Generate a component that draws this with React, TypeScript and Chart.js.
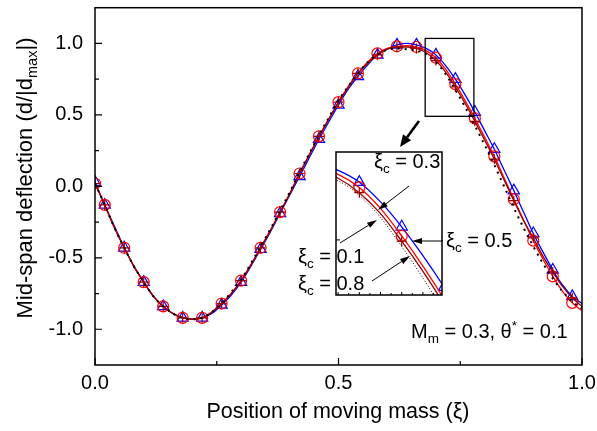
import React, { useEffect, useRef } from "react";
import { Chart, registerables } from "chart.js";
Chart.register(...registerables);

// Position of moving mass (ξ)
const XI = [
  0, 0.02, 0.04, 0.06, 0.08, 0.1, 0.12, 0.14, 0.16, 0.18,
  0.2, 0.22, 0.24, 0.26, 0.28, 0.3, 0.32, 0.34, 0.36, 0.38,
  0.4, 0.42, 0.44, 0.46, 0.48, 0.5, 0.52, 0.54, 0.56, 0.58,
  0.6, 0.62, 0.64, 0.66, 0.68, 0.7, 0.72, 0.74, 0.76, 0.78,
  0.8, 0.82, 0.84, 0.86, 0.88, 0.9, 0.92, 0.94, 0.96, 0.98, 1.0,
];

// ξc = 0.1 (dark red, plus markers)
const D_XC01 = [
  0.02, -0.13, -0.29, -0.43, -0.56, -0.67, -0.77, -0.84, -0.89, -0.92,
  -0.93, -0.92, -0.88, -0.82, -0.75, -0.66, -0.55, -0.43, -0.31, -0.18,
  -0.05, 0.09, 0.22, 0.35, 0.47, 0.59, 0.69, 0.79, 0.86, 0.92,
  0.96, 0.975, 0.975, 0.965, 0.935, 0.88, 0.8, 0.695, 0.58, 0.455,
  0.325, 0.19, 0.045, -0.1, -0.24, -0.36, -0.49, -0.6, -0.7, -0.78, -0.84,
];

// ξc = 0.3 (blue, triangles)
const D_XC03 = [
  0.03, -0.13, -0.28, -0.43, -0.56, -0.67, -0.77, -0.84, -0.89, -0.92,
  -0.93, -0.92, -0.89, -0.83, -0.76, -0.67, -0.56, -0.44, -0.32, -0.19,
  -0.06, 0.07, 0.2, 0.33, 0.45, 0.57, 0.68, 0.77, 0.85, 0.92,
  0.96, 0.99, 1.0, 0.99, 0.965, 0.92, 0.845, 0.75, 0.64, 0.52,
  0.39, 0.26, 0.115, -0.03, -0.18, -0.33, -0.46, -0.585, -0.69, -0.77, -0.82,
];

// ξc = 0.5 (red, circles)
const D_XC05 = [
  0.02, -0.13, -0.29, -0.43, -0.56, -0.67, -0.77, -0.84, -0.89, -0.92,
  -0.93, -0.92, -0.88, -0.82, -0.75, -0.66, -0.55, -0.43, -0.31, -0.18,
  -0.05, 0.09, 0.22, 0.35, 0.47, 0.59, 0.7, 0.79, 0.87, 0.93,
  0.965, 0.98, 0.985, 0.975, 0.95, 0.9, 0.82, 0.715, 0.6, 0.475,
  0.345, 0.21, 0.06, -0.09, -0.235, -0.38, -0.51, -0.63, -0.735, -0.815, -0.87,
];

// ξc = 0.8 (black dotted)
const D_XC08 = [
  0.02, -0.13, -0.29, -0.43, -0.56, -0.67, -0.77, -0.84, -0.89, -0.92,
  -0.93, -0.92, -0.88, -0.82, -0.74, -0.65, -0.54, -0.42, -0.3, -0.17,
  -0.04, 0.1, 0.23, 0.36, 0.48, 0.6, 0.7, 0.79, 0.87, 0.92,
  0.955, 0.965, 0.96, 0.95, 0.925, 0.87, 0.785, 0.675, 0.555, 0.425,
  0.29, 0.15, 0.0, -0.15, -0.29, -0.42, -0.54, -0.645, -0.735, -0.805, -0.855,
];

const X_TICKS = [0, 0.5, 1];
const X_MINOR = [0.25, 0.75];
const Y_TICKS = [-1, -0.5, 0, 0.5, 1];
const Y_MINOR = [-0.75, -0.25, 0.25, 0.75];
const X_RANGE = [0, 1];
const Y_RANGE = [-1.25, 1.25];
// zoomed window shown in the inset
const ZOOM_X = [0.678, 0.778];
const ZOOM_Y = [0.49, 1.035];
const INSET_X_TICKS = [0.68, 0.69, 0.7, 0.71, 0.72, 0.73, 0.74, 0.75, 0.76, 0.77];
const INSET_Y_TICKS = [0.7];

const FONT = '"Liberation Sans", Arial, Helvetica, sans-serif';

type Part = { t: string; size: number; dy: number };

function drawRich(ctx: CanvasRenderingContext2D, parts: Part[], x: number, y: number, align: "left" | "center") {
  let total = 0;
  parts.forEach((p) => {
    ctx.font = `${p.size}px ${FONT}`;
    total += ctx.measureText(p.t).width;
  });
  let cx = align === "center" ? x - total / 2 : x;
  ctx.textAlign = "left";
  ctx.textBaseline = "alphabetic";
  parts.forEach((p) => {
    ctx.font = `${p.size}px ${FONT}`;
    ctx.fillText(p.t, cx, y + p.dy);
    cx += ctx.measureText(p.t).width;
  });
}

function arrow(ctx: CanvasRenderingContext2D, x1: number, y1: number, x2: number, y2: number, hl: number, hw: number, lw: number) {
  const ang = Math.atan2(y2 - y1, x2 - x1);
  const bx = x2 - hl * Math.cos(ang);
  const by = y2 - hl * Math.sin(ang);
  ctx.lineWidth = lw;
  ctx.beginPath();
  ctx.moveTo(x1, y1);
  ctx.lineTo(bx, by);
  ctx.stroke();
  ctx.beginPath();
  ctx.moveTo(x2, y2);
  ctx.lineTo(bx + (hw / 2) * Math.sin(ang), by - (hw / 2) * Math.cos(ang));
  ctx.lineTo(bx - (hw / 2) * Math.sin(ang), by + (hw / 2) * Math.cos(ang));
  ctx.closePath();
  ctx.fill();
}

function xiLabel(value: string): Part[] {
  return [
    { t: "\u03BE", size: 20, dy: 0 },
    { t: "c", size: 13.5, dy: 5 },
    { t: " = " + value, size: 20, dy: 0 },
  ];
}

const markerRadius = (r: number) => (c: any) => (c.dataIndex === 0 || c.dataIndex % 2 === 1 ? r : 0);

function buildDatasets(inset: boolean) {
  const pts = (vals: number[]) => XI.map((x, i) => ({ x, y: vals[i] }));
  return [
    {
      label: "\u03BEc = 0.8",
      data: pts(D_XC08),
      borderColor: "#000000",
      borderWidth: inset ? 1 : 2,
      borderDash: inset ? [1, 2] : [2, 5],
      pointRadius: 0,
      cubicInterpolationMode: "monotone",
    },
    {
      label: "\u03BEc = 0.1",
      data: pts(D_XC01),
      borderColor: "#990000",
      borderWidth: 1.3,
      pointStyle: "cross",
      pointRadius: markerRadius(5),
      pointBorderColor: "#990000",
      pointBackgroundColor: "rgba(0,0,0,0)",
      pointBorderWidth: 1.2,
      cubicInterpolationMode: "monotone",
    },
    {
      label: "\u03BEc = 0.5",
      data: pts(D_XC05),
      borderColor: "#ff0000",
      borderWidth: 1.3,
      pointStyle: "circle",
      pointRadius: markerRadius(5.5),
      pointBorderColor: "#ff0000",
      pointBackgroundColor: "rgba(0,0,0,0)",
      pointBorderWidth: 1.2,
      cubicInterpolationMode: "monotone",
    },
    {
      label: "\u03BEc = 0.3",
      data: pts(D_XC03),
      borderColor: "#0000ff",
      borderWidth: 1.3,
      pointStyle: "triangle",
      pointRadius: markerRadius(6.5),
      pointBorderColor: "#0000ff",
      pointBackgroundColor: "rgba(0,0,0,0)",
      pointBorderWidth: 1.2,
      cubicInterpolationMode: "monotone",
    },
  ];
}

const mainPlugin = {
  id: "mainDecor",
  afterDatasetsDraw(chart: any) {
    const { ctx, chartArea: a } = chart;
    const x = chart.scales.x;
    const y = chart.scales.y;
    ctx.save();
    ctx.strokeStyle = "#000";
    ctx.fillStyle = "#000";
    ctx.lineWidth = 1.5;
    ctx.strokeRect(a.left, a.top, a.right - a.left, a.bottom - a.top);
    ctx.lineWidth = 1.2;
    ctx.beginPath();
    Y_TICKS.forEach((v) => {
      const p = y.getPixelForValue(v);
      ctx.moveTo(a.left, p);
      ctx.lineTo(a.left + 7, p);
    });
    Y_MINOR.forEach((v) => {
      const p = y.getPixelForValue(v);
      ctx.moveTo(a.left, p);
      ctx.lineTo(a.left + 4, p);
    });
    X_TICKS.forEach((v) => {
      const p = x.getPixelForValue(v);
      ctx.moveTo(p, a.bottom);
      ctx.lineTo(p, a.bottom - 7);
    });
    X_MINOR.forEach((v) => {
      const p = x.getPixelForValue(v);
      ctx.moveTo(p, a.bottom);
      ctx.lineTo(p, a.bottom - 4);
    });
    ctx.stroke();

    // zoom window rectangle
    const rx1 = x.getPixelForValue(ZOOM_X[0]);
    const rx2 = x.getPixelForValue(ZOOM_X[1]);
    const ry1 = y.getPixelForValue(ZOOM_Y[1]);
    const ry2 = y.getPixelForValue(ZOOM_Y[0]);
    ctx.lineWidth = 1.3;
    ctx.strokeRect(rx1, ry1, rx2 - rx1, ry2 - ry1);

    // big arrow to inset
    arrow(ctx, 419, 121, 400, 147, 12, 10, 2.6);

    // axis titles
    ctx.font = `21.5px ${FONT}`;
    ctx.textAlign = "center";
    ctx.textBaseline = "middle";
    ctx.fillText("Position of moving mass (\u03BE)", 338, 412);

    ctx.save();
    ctx.translate(32, 178);
    ctx.rotate(-Math.PI / 2);
    drawRich(
      ctx,
      [
        { t: "Mid-span deflection (d/|d", size: 22, dy: 0 },
        { t: "max", size: 14.5, dy: 5 },
        { t: "|)", size: 22, dy: 0 },
      ],
      0,
      0,
      "center"
    );
    ctx.restore();
    ctx.restore();
  },
};

const insetPlugin = {
  id: "insetDecor",
  beforeDatasetsDraw(chart: any) {
    const { ctx, chartArea: a } = chart;
    ctx.save();
    ctx.fillStyle = "#ffffff";
    ctx.fillRect(a.left, a.top, a.right - a.left, a.bottom - a.top);
    ctx.restore();
  },
  afterDatasetsDraw(chart: any) {
    const { ctx, chartArea: a } = chart;
    const x = chart.scales.x;
    const y = chart.scales.y;
    ctx.save();
    ctx.strokeStyle = "#000";
    ctx.fillStyle = "#000";
    ctx.lineWidth = 1.5;
    ctx.strokeRect(a.left, a.top, a.right - a.left, a.bottom - a.top);
    ctx.lineWidth = 1;
    ctx.beginPath();
    INSET_X_TICKS.forEach((v, i) => {
      const p = x.getPixelForValue(v);
      ctx.moveTo(p, a.bottom);
      ctx.lineTo(p, a.bottom - (i % 2 === 0 ? 3 : 2));
    });
    INSET_Y_TICKS.forEach((v) => {
      const p = y.getPixelForValue(v);
      ctx.moveTo(a.left, p);
      ctx.lineTo(a.left + 4, p);
    });
    ctx.stroke();

    // labels
    drawRich(ctx, xiLabel("0.3"), 374, 168, "left");
    drawRich(ctx, xiLabel("0.5"), 446, 247, "left");
    drawRich(ctx, xiLabel("0.1"), 298, 263, "left");
    drawRich(ctx, xiLabel("0.8"), 298, 290, "left");

    ctx.strokeStyle = "#000";
    arrow(ctx, 409, 186, 378, 210, 10, 6, 1);
    arrow(ctx, 340, 243, 377, 220, 10, 6, 1);
    arrow(ctx, 443, 241, 412, 241, 10, 6, 1);
    arrow(ctx, 372, 281, 410, 256, 10, 6, 1);

    drawRich(
      ctx,
      [
        { t: "M", size: 20, dy: 0 },
        { t: "m", size: 13.5, dy: 5 },
        { t: " = 0.3, \u03B8", size: 20, dy: 0 },
        { t: "*", size: 13.5, dy: -8 },
        { t: " = 0.1", size: 20, dy: 0 },
      ],
      411,
      338,
      "left"
    );
    ctx.restore();
  },
};

export default function App() {
  const mainRef = useRef<HTMLCanvasElement>(null);
  const insetRef = useRef<HTMLCanvasElement>(null);

  useEffect(() => {
    const main = new Chart(mainRef.current as HTMLCanvasElement, {
      type: "line",
      data: { datasets: buildDatasets(false) as any },
      options: {
        responsive: false,
        animation: false,
        devicePixelRatio: 1,
        layout: { padding: { top: 7, right: 15, left: 0, bottom: 0 } },
        plugins: { legend: { display: false }, tooltip: { enabled: false } },
        scales: {
          x: {
            type: "linear",
            min: X_RANGE[0],
            max: X_RANGE[1],
            afterBuildTicks: (s: any) => {
              s.ticks = X_TICKS.map((v) => ({ value: v }));
            },
            afterFit: (s: any) => {
              s.height = 66;
              s.paddingLeft = 0;
              s.paddingRight = 0;
            },
            ticks: {
              font: { family: FONT, size: 20 },
              color: "#000",
              padding: 6,
              maxRotation: 0,
              autoSkip: false,
              callback: (v: any) => Number(v).toFixed(1),
            },
            grid: { display: false, drawTicks: false },
            border: { display: false },
          },
          y: {
            type: "linear",
            min: Y_RANGE[0],
            max: Y_RANGE[1],
            afterBuildTicks: (s: any) => {
              s.ticks = Y_TICKS.map((v) => ({ value: v }));
            },
            afterFit: (s: any) => {
              s.width = 95;
              s.paddingTop = 0;
              s.paddingBottom = 0;
            },
            ticks: {
              font: { family: FONT, size: 20 },
              color: "#000",
              padding: 12,
              autoSkip: false,
              callback: (v: any) => Number(v).toFixed(1),
            },
            grid: { display: false, drawTicks: false },
            border: { display: false },
          },
        },
      },
      plugins: [mainPlugin],
    });

    const inset = new Chart(insetRef.current as HTMLCanvasElement, {
      type: "line",
      data: { datasets: buildDatasets(true) as any },
      options: {
        responsive: false,
        animation: false,
        devicePixelRatio: 1,
        layout: { padding: { left: 336, top: 152, right: 155, bottom: 136 } },
        plugins: { legend: { display: false }, tooltip: { enabled: false } },
        scales: {
          x: { type: "linear", display: false, min: ZOOM_X[0], max: ZOOM_X[1] },
          y: { type: "linear", display: false, min: ZOOM_Y[0], max: ZOOM_Y[1] },
        },
      },
      plugins: [insetPlugin],
    });

    return () => {
      main.destroy();
      inset.destroy();
    };
  }, []);

  return (
    <div style={{ position: "fixed", left: 0, top: 0, width: 597, height: 431, background: "#fff" }}>
      <canvas ref={mainRef} width={597} height={431} style={{ position: "absolute", left: 0, top: 0 }} />
      <canvas ref={insetRef} width={597} height={431} style={{ position: "absolute", left: 0, top: 0 }} />
    </div>
  );
}
